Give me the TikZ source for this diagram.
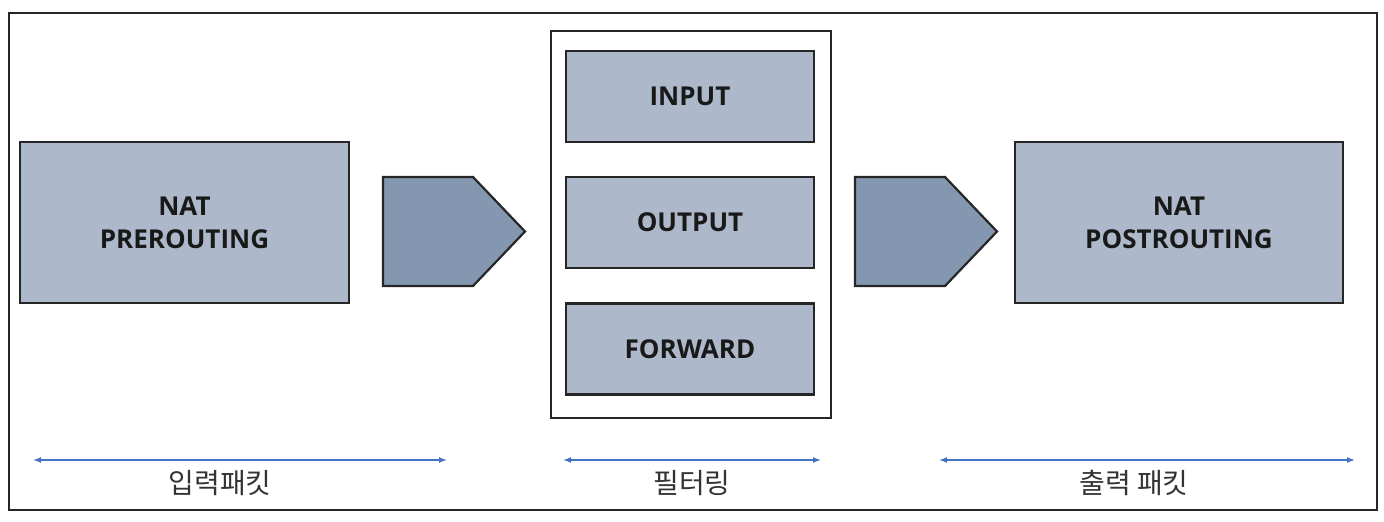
\documentclass[tikz,border=0pt]{standalone}
\usepackage{fontspec}
\setmainfont{Open Sans}
\newfontfamily\kor{Noto Sans CJK KR}
\usetikzlibrary{arrows.meta}
\definecolor{boxfill}{HTML}{ADB9CA}
\definecolor{arrowfill}{HTML}{8497B0}
\definecolor{spanblue}{HTML}{4472C4}
\definecolor{labelgray}{HTML}{333333}

\begin{document}
\begin{tikzpicture}[x=1pt,y=-1pt,
	chainbox/.style={draw=black!85, line width=2.2pt, fill=boxfill, text=black!90,
		font=\fontsize{26}{33}\selectfont\bfseries, align=center, inner sep=0pt},
	flow/.style={draw=black!85, line width=2.2pt, fill=arrowfill, line join=miter},
	span/.style={spanblue, line width=1.4pt, {Latex[length=8pt,width=6pt]}-{Latex[length=8pt,width=6pt]}},
	spanlabel/.style={text=labelgray, font=\kor\fontsize{28}{32}\selectfont}]
			\useasboundingbox (0,0) rectangle (1384,522);
			% outer frame
			\draw [line width=2.5pt, black!85] (9,13) rectangle (1377,510);

			% nat chains
			\node[chainbox, minimum width=329pt, minimum height=161pt] (pre) at (184.5,222.5) {NAT\\PREROUTING};
			\node[chainbox, minimum width=328pt, minimum height=161pt] (post) at (1179,222.5) {NAT\\POSTROUTING};

			% filter chains
			\draw [line width=2.2pt, black!85] (551,31) rectangle (831,418);
			\node[chainbox, minimum width=248pt, minimum height=91pt] (input) at (690,96.5) {INPUT};
			\node[chainbox, minimum width=248pt, minimum height=91pt] (output) at (690,222.5) {OUTPUT};
			\node[chainbox, minimum width=248pt, minimum height=91pt] (forward) at (690,349) {FORWARD};

			% flow arrows
			\draw [flow] (383,177) -- (473,177) -- (525,231.5) -- (473,286) -- (383,286) -- cycle;
			\draw [flow] (855,177) -- (945,177) -- (997,231.5) -- (945,286) -- (855,286) -- cycle;

			% spans
			\coordinate (inL) at (33,460);
			\coordinate (inR) at (447,460);
			\coordinate (fiL) at (563,460);
			\coordinate (fiR) at (821,460);
			\coordinate (ouL) at (939,460);
			\coordinate (ouR) at (1355,460);
			\draw [span] (inL) -- (inR);
			\draw [span] (fiL) -- (fiR);
			\draw [span] (ouL) -- (ouR);

			% span labels
			\node[spanlabel] (inlabel) at (220,483) {입력패킷};
			\node[spanlabel] (filabel) at (692,483) {필터링};
			\node[spanlabel] (oulabel) at (1134,483) {출력 패킷};
\end{tikzpicture}
\end{document}
